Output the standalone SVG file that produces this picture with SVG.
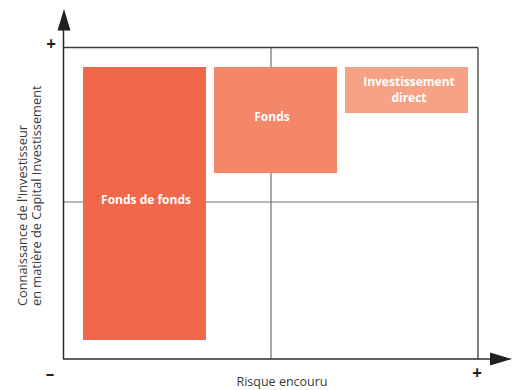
<svg xmlns="http://www.w3.org/2000/svg" width="517" height="390" viewBox="0 0 517 390">
  <style>
    .lbl { font-family: "Open Sans", "Noto Sans", sans-serif; font-size: 12.5px; fill: #3a3a3a; }
    .ylbl { font-size: 12.8px; }
    .box { font-family: "Open Sans", "Noto Sans", sans-serif; font-size: 12px; font-weight: bold; fill: #ffffff; text-anchor: middle; }
    .sign { font-family: "Open Sans", "Noto Sans", sans-serif; font-size: 17px; font-weight: bold; fill: #231f20; text-anchor: middle; }
    .grid { stroke: #707070; stroke-width: 1.2; fill: none; }
    .frame { stroke: #3c3c3c; stroke-width: 1.3; fill: none; }
    .axis { stroke: #2a2a2a; stroke-width: 1.5; fill: none; }
  </style>

  <!-- quadrant grid and frame -->
  <g id="grid">
    <line class="grid" x1="271" y1="47.5" x2="271" y2="359"/>
    <line class="grid" x1="63.5" y1="202" x2="478" y2="202"/>
    <line class="frame" x1="63.5" y1="47.5" x2="478" y2="47.5"/>
    <line class="frame" x1="478" y1="47.5" x2="478" y2="359"/>
  </g>

  <!-- nodes -->
  <g id="fonds-de-fonds">
    <rect x="83" y="67" width="123" height="273" fill="#f2674a"/>
    <text class="box" x="146" y="203.5">Fonds de fonds</text>
  </g>
  <g id="fonds">
    <rect x="214" y="67" width="123" height="106" fill="#f4876a"/>
    <text class="box" x="272" y="121">Fonds</text>
  </g>
  <g id="investissement-direct">
    <rect x="345" y="67" width="123" height="46" fill="#f6a286"/>
    <text class="box" x="409" y="85.5">Investissement</text>
    <text class="box" x="409" y="102">direct</text>
  </g>

  <!-- axes -->
  <g id="axes">
    <line class="axis" x1="63.5" y1="28" x2="63.5" y2="359"/>
    <line class="axis" x1="63" y1="359" x2="492" y2="359"/>
    <polygon points="64,9 70.5,30.5 57.5,30.5" fill="#231f20"/>
    <polygon points="512,359 490,352.5 490,365.5" fill="#231f20"/>
  </g>

  <!-- axis signs and titles -->
  <g id="labels">
    <text class="sign" x="51" y="50">+</text>
    <text class="sign" x="50" y="380">–</text>
    <text class="sign" x="477" y="379">+</text>
    <text class="lbl" x="282" y="386" text-anchor="middle">Risque encouru</text>
    <text class="lbl ylbl" transform="translate(27,306) rotate(-90)">Connaissance de l'investisseur</text>
    <text class="lbl ylbl" transform="translate(41,306) rotate(-90)">en matière de Capital Investissement</text>
  </g>
</svg>
